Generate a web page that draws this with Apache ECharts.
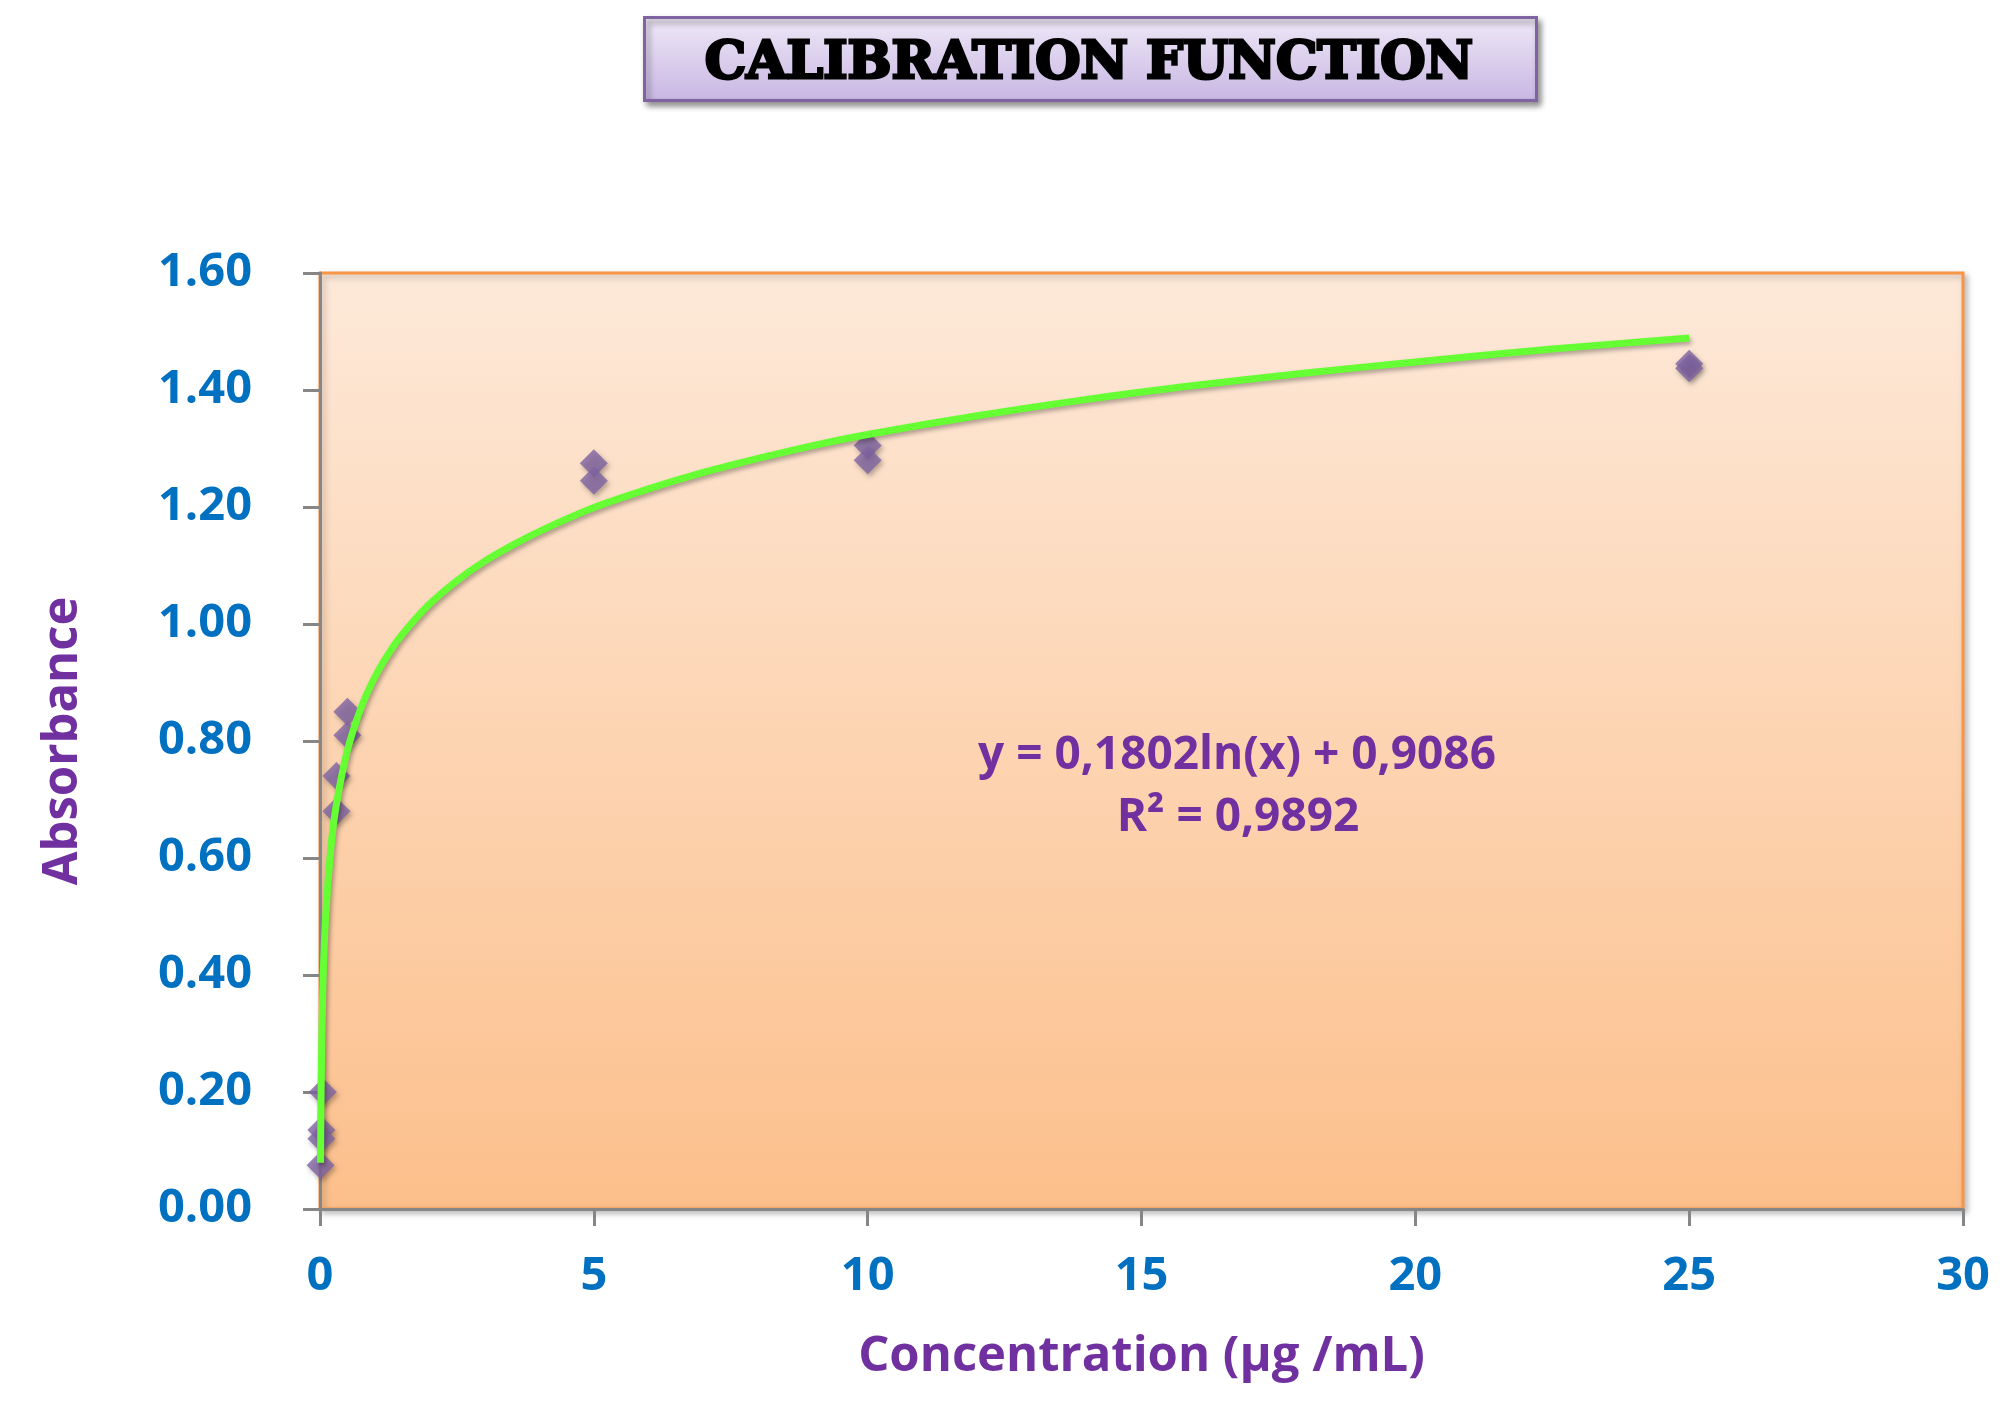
<!DOCTYPE html>
<html>
<head>
<meta charset="utf-8">
<script src="https://cdn.jsdelivr.net/npm/echarts@6/dist/echarts.min.js"></script>
<style>
html,body{margin:0;padding:0;background:#fff;}
#chart{width:2009px;height:1407px;}
</style>
</head>
<body>
<div id="chart"></div>
<script>
// ---- data ----
const pointX = [0.01, 0.025, 0.025, 0.05, 0.3, 0.3, 0.5, 0.5, 5, 5, 10, 10, 25, 25];
const pointY = [0.075, 0.135, 0.12, 0.20, 0.74, 0.68, 0.85, 0.81, 1.275, 1.245, 1.305, 1.28, 1.445, 1.437];
// trend line
const trendX = [0.01, 0.02, 0.05, 0.1, 0.2, 0.3, 0.5, 0.75, 1, 1.25, 1.5, 2, 2.5, 3, 3.5, 4, 5, 6, 7, 8, 9, 10, 12, 14, 16, 18, 20, 22.5, 25];
const trendY = [0.079, 0.204, 0.369, 0.494, 0.619, 0.692, 0.784, 0.857, 0.909, 0.949, 0.982, 1.034, 1.074, 1.107, 1.134, 1.158, 1.199, 1.231, 1.259, 1.283, 1.305, 1.324, 1.356, 1.384, 1.408, 1.429, 1.448, 1.470, 1.489];
const titleText = 'CALIBRATION FUNCTION';
const xName = 'Concentration (µg /mL)';
const yName = 'Absorbance';
const equationLines = ['y = 0,1802ln(x) + 0,9086', 'R² = 0,9892'];

const points = pointX.map((x, i) => [x, pointY[i]]);
const trend = trendX.map((x, i) => [x, trendY[i]]);

const chart = echarts.init(document.getElementById('chart'), null, {renderer: 'canvas'});
const FONT = '"Open Sans", "Noto Sans", sans-serif';
const blue = '#0070c0';
const purple = '#7030a0';

chart.setOption({
  animation: false,
  grid: {
    left: 320, top: 273, right: 46, bottom: 198,
    show: true,
    backgroundColor: {type: 'linear', x: 0, y: 0, x2: 0, y2: 1,
      colorStops: [{offset: 0, color: '#fde9d9'}, {offset: 1, color: '#fcbf8b'}]},
    borderColor: '#f79646', borderWidth: 3,
    shadowColor: 'rgba(0,0,0,0.25)', shadowBlur: 6, shadowOffsetX: 3, shadowOffsetY: 3
  },
  xAxis: {
    type: 'value', min: 0, max: 30, interval: 5,
    name: xName, nameLocation: 'middle', nameGap: 124,
    nameTextStyle: {color: purple, fontFamily: FONT, fontWeight: 'bold', fontSize: 49},
    axisLine: {show: true, lineStyle: {color: '#868686', width: 3}},
    axisTick: {show: true, length: 17, lineStyle: {color: '#868686', width: 3}},
    axisLabel: {color: blue, fontFamily: FONT, fontWeight: 'bold', fontSize: 47, margin: 44},
    splitLine: {show: false}
  },
  yAxis: {
    type: 'value', min: 0, max: 1.6, interval: 0.2,
    name: yName, nameLocation: 'middle', nameGap: 232, nameRotate: 90,
    nameTextStyle: {color: purple, fontFamily: FONT, fontWeight: 'bold', fontSize: 49},
    axisLine: {show: true, lineStyle: {color: '#868686', width: 3}},
    axisTick: {show: true, length: 17, lineStyle: {color: '#868686', width: 3}},
    axisLabel: {color: blue, fontFamily: FONT, fontWeight: 'bold', fontSize: 47, margin: 68,
      formatter: v => v.toFixed(2)},
    splitLine: {show: false}
  },
  series: [
    {
      type: 'scatter', data: points, symbol: 'diamond', symbolSize: 28, z: 3,
      itemStyle: {color: '#8064a2', shadowColor: 'rgba(0,0,0,0.35)', shadowBlur: 5, shadowOffsetX: 2, shadowOffsetY: 3}
    },
    {
      type: 'line', data: trend, smooth: 0.3, showSymbol: false, z: 4,
      lineStyle: {color: '#66ff33', width: 7, cap: 'butt', join: 'round', shadowColor: 'rgba(0,0,0,0.3)', shadowBlur: 4, shadowOffsetX: 2, shadowOffsetY: 3}
    }
  ],
  graphic: [
    {
      type: 'rect', left: 643, top: 16, z: 10,
      shape: {width: 892, height: 83},
      style: {
        fill: {type: 'linear', x: 0, y: 0, x2: 0, y2: 1,
          colorStops: [{offset: 0, color: '#efe9f7'}, {offset: 1, color: '#c8b6e3'}]},
        stroke: '#8064a2', lineWidth: 3,
        shadowColor: 'rgba(0,0,0,0.4)', shadowBlur: 6, shadowOffsetX: 3, shadowOffsetY: 4
      }
    },
    {
      type: 'text', x: 1089, y: 64, z: 11,
      style: {text: titleText, fill: '#000', font: 'bold 52px "DejaVu Serif", serif',
        textAlign: 'center', textVerticalAlign: 'middle', stroke: '#000', lineWidth: 3}
    },
    {
      type: 'text', x: 1237, y: 756, z: 11,
      style: {text: equationLines[0], fill: purple, font: 'bold 46px ' + FONT,
        textAlign: 'center', textVerticalAlign: 'middle'}
    },
    {
      type: 'text', x: 1238, y: 818, z: 11,
      style: {text: equationLines[1], fill: purple, font: 'bold 46px ' + FONT,
        textAlign: 'center', textVerticalAlign: 'middle'}
    }
  ]
});
</script>
</body>
</html>
